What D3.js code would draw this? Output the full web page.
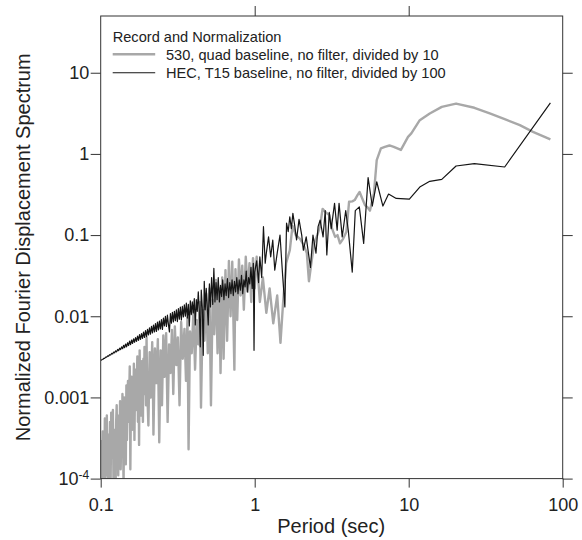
<!DOCTYPE html>
<html lang="en">
  <head>
    <meta charset="UTF-8" />
    <title>Normalized Fourier displacement spectrum</title>
    <script src="https://cdn.jsdelivr.net/npm/d3@7"></script>
    <style>
      body { margin: 0; background: #fff; }
      svg text { font-family: "Liberation Sans", Arial, Helvetica, sans-serif; fill: #222; }
    </style>
  </head>
  <body>
    <svg id="chart"></svg>
    <script>
      // tick values
      const xTicks = [0.1, 1, 10, 100];
      const yTicks = [10, 1, 0.1, 0.01, 0.001, 1e-4];

      const legendTitle = "Record and Normalization";
      const seriesNames = [
        "530, quad baseline, no filter, divided by 10",
        "HEC, T15 baseline, no filter, divided by 100",
      ];

      // 530 record, [period (s), normalized amplitude]
      const rec530 = [
        [0.1000, 3.0e-4], [0.1008, 8e-5], [0.1016, 2.5e-4], [0.1024, 1.5e-4], [0.1032, 3.8e-4],
        [0.1040, 9e-5], [0.1048, 2.2e-4], [0.1056, 1.2e-4], [0.1064, 5.5e-4], [0.1072, 7e-5],
        [0.1080, 3.0e-4], [0.1088, 1.6e-4], [0.1096, 6.0e-4], [0.1104, 1.1e-4], [0.1112, 3.5e-4],
        [0.1120, 8e-5], [0.1130, 2.8e-4], [0.1140, 1.3e-4], [0.1150, 5.0e-4], [0.1160, 9e-5],
        [0.1170, 6.5e-4], [0.1180, 1.8e-4], [0.1190, 3.2e-4], [0.1200, 7.0e-4], [0.1210, 1.0e-4],
        [0.1220, 4.0e-4], [0.1230, 1.5e-4], [0.1240, 3.0e-4], [0.1250, 7e-5], [0.1260, 5.0e-4],
        [0.1270, 8.0e-4], [0.1280, 2.0e-4], [0.1290, 4.5e-4], [0.1300, 1.1e-4], [0.1312, 6.0e-4],
        [0.1324, 2.5e-4], [0.1336, 9.0e-4], [0.1348, 1.3e-4], [0.1360, 4.0e-4], [0.1372, 2.0e-4],
        [0.1384, 1.1e-3], [0.1396, 3.5e-4], [0.1408, 8e-5], [0.1420, 1.0e-3], [0.1432, 4.0e-4],
        [0.1444, 7.0e-4], [0.1456, 1.5e-4], [0.1468, 1.4e-3], [0.1480, 3.0e-4], [0.1492, 8.0e-4],
        [0.1504, 1.6e-3], [0.1516, 5.0e-4], [0.1530, 1.0e-3], [0.1544, 2.4e-3], [0.1558, 1.3e-4],
        [0.1572, 9.0e-4], [0.1586, 1.8e-3], [0.1600, 4.0e-4], [0.1614, 1.2e-3], [0.1628, 6.0e-4],
        [0.1642, 2.6e-3], [0.1656, 3.0e-4], [0.1670, 1.4e-3], [0.1685, 2.2e-3], [0.1700, 7.0e-4],
        [0.1715, 1.5e-3], [0.1730, 3.2e-3], [0.1745, 5.0e-4], [0.1760, 1.8e-3], [0.1775, 2.6e-4],
        [0.1790, 3.8e-3], [0.1805, 9.0e-4], [0.1820, 2.4e-3], [0.1835, 6.0e-4], [0.1850, 2.8e-3],
        [0.1865, 1.3e-3], [0.1880, 5.0e-4], [0.1895, 3.0e-3], [0.1910, 1.1e-3], [0.1925, 4.2e-3],
        [0.1940, 1.6e-3], [0.1955, 2.5e-3], [0.1970, 8.0e-4], [0.1985, 5.5e-3], [0.2000, 1.5e-3],
        [0.204, 4.5e-4], [0.208, 3.6e-3], [0.212, 1.0e-3], [0.216, 4.8e-3], [0.218, 1.8e-3],
        [0.220, 3.5e-4], [0.225, 4.0e-3], [0.230, 1.5e-3], [0.235, 5.2e-3], [0.240, 2.8e-4],
        [0.245, 3.8e-3], [0.250, 8.0e-4], [0.255, 5.8e-3], [0.260, 1.8e-3], [0.266, 6.2e-3],
        [0.272, 5.0e-4], [0.278, 4.5e-3], [0.284, 2.0e-3], [0.290, 6.8e-3], [0.296, 1.1e-3],
        [0.303, 7.5e-3], [0.310, 2.5e-3], [0.317, 5.5e-3], [0.325, 8.0e-4], [0.333, 8.5e-3],
        [0.341, 3.0e-3], [0.350, 7.0e-3], [0.358, 1.6e-3], [0.366, 9.5e-3], [0.372, 2.3e-4],
        [0.380, 6.5e-3], [0.390, 3.5e-3], [0.400, 1.15e-2], [0.410, 2.2e-3], [0.420, 9.0e-3],
        [0.430, 4.5e-3], [0.440, 1.5e-2], [0.448, 7.5e-4], [0.460, 1.2e-2], [0.472, 5.0e-3],
        [0.484, 1.9e-2], [0.496, 3.5e-3], [0.508, 2.2e-2], [0.520, 8.0e-4], [0.533, 1.6e-2],
        [0.546, 6.0e-3], [0.560, 2.8e-2], [0.574, 3.5e-3], [0.588, 2.2e-2], [0.600, 2.0e-3],
        [0.615, 3.0e-2], [0.628, 3.0e-3], [0.646, 3.7e-2], [0.662, 5.0e-3], [0.680, 4.8e-2],
        [0.697, 1.0e-2], [0.715, 4.7e-2], [0.738, 2.2e-3], [0.750, 3.8e-2], [0.770, 9.0e-3],
        [0.790, 5.0e-2], [0.810, 1.8e-2], [0.830, 4.2e-2], [0.850, 1.2e-2], [0.875, 5.4e-2],
        [0.900, 2.0e-2], [0.925, 4.5e-2], [0.950, 1.5e-2], [0.975, 5.2e-2], [1.000, 2.2e-2],
        [1.03, 0.054], [1.08, 0.015], [1.13, 0.030], [1.19, 0.011], [1.25, 0.022],
        [1.32, 0.0082], [1.40, 0.018], [1.47, 0.0047], [1.53, 0.015], [1.60, 0.045],
        [1.69, 0.065], [1.76, 0.13], [1.85, 0.10], [1.97, 0.09], [2.08, 0.075],
        [2.18, 0.06], [2.25, 0.027], [2.35, 0.05], [2.44, 0.08], [2.55, 0.10],
        [2.65, 0.125], [2.76, 0.21], [2.90, 0.19], [3.05, 0.177], [3.18, 0.12],
        [3.33, 0.095], [3.45, 0.10], [3.58, 0.079], [3.75, 0.09], [3.94, 0.11],
        [4.10, 0.257], [4.30, 0.26], [4.46, 0.27], [4.65, 0.31], [4.80, 0.34],
        [5.00, 0.28], [5.20, 0.234], [5.40, 0.22], [5.60, 0.20], [5.95, 0.33],
        [6.20, 0.84], [6.60, 1.17], [7.00, 1.22], [7.50, 1.27], [8.00, 1.22],
        [8.90, 1.12], [9.90, 1.62], [10.4, 1.79], [11.8, 2.6], [13.7, 3.15],
        [16.4, 3.8], [20.3, 4.17], [26.7, 3.7], [33.6, 3.15], [42.0, 2.68],
        [52.7, 2.26], [64.1, 1.87], [83.2, 1.51],
      ];

      // HEC record, [period (s), normalized amplitude]
      const recHEC = [
        [0.1000, 0.00285], [0.1015, 0.00291], [0.1030, 0.00293], [0.1046, 0.00302], [0.1061, 0.00303],
        [0.1077, 0.00313], [0.1093, 0.00314], [0.1110, 0.00325], [0.1126, 0.00323], [0.1143, 0.00336],
        [0.1161, 0.00333], [0.1178, 0.00349], [0.1196, 0.00344], [0.1214, 0.00362], [0.1232, 0.00354],
        [0.1250, 0.00375], [0.1269, 0.00364], [0.1288, 0.00390], [0.1307, 0.00376], [0.1327, 0.00404],
        [0.1347, 0.00388], [0.1367, 0.00420], [0.1388, 0.00398], [0.1408, 0.00438], [0.1430, 0.00410],
        [0.1451, 0.00455], [0.1473, 0.00420], [0.1495, 0.00472], [0.1517, 0.00436], [0.1540, 0.00494],
        [0.1563, 0.00448], [0.1587, 0.00510], [0.1610, 0.00462], [0.1635, 0.00528], [0.1659, 0.00478],
        [0.1684, 0.00545], [0.1709, 0.00490], [0.1735, 0.00570], [0.1761, 0.00505], [0.1787, 0.00595],
        [0.1814, 0.00520], [0.1841, 0.00612], [0.1869, 0.00535], [0.1897, 0.00640], [0.1925, 0.00548],
        [0.1954, 0.00665], [0.1984, 0.00560], [0.2013, 0.00690], [0.2043, 0.00590], [0.2074, 0.00720],
        [0.2105, 0.00600], [0.2137, 0.00750], [0.2169, 0.00625], [0.2202, 0.00780], [0.2235, 0.00640],
        [0.2268, 0.00810], [0.2302, 0.00650], [0.2337, 0.00850], [0.2372, 0.00680], [0.2407, 0.00870],
        [0.2443, 0.00700], [0.2480, 0.00910], [0.2517, 0.00690], [0.2555, 0.00950], [0.2593, 0.00760],
        [0.2632, 0.01000], [0.2672, 0.00750], [0.2712, 0.01030], [0.2752, 0.00800], [0.2794, 0.00640],
        [0.2836, 0.01080], [0.2878, 0.00820], [0.2921, 0.01120], [0.2965, 0.00850], [0.3010, 0.01150],
        [0.3055, 0.00880], [0.3101, 0.01200], [0.3147, 0.00860], [0.3194, 0.01240], [0.3242, 0.00920],
        [0.3291, 0.01300], [0.3340, 0.00900], [0.3390, 0.01320], [0.3441, 0.00980], [0.3493, 0.01380],
        [0.3545, 0.01000], [0.3598, 0.01450], [0.3652, 0.00950], [0.3707, 0.01400], [0.3763, 0.00760],
        [0.3819, 0.01550], [0.3876, 0.01050], [0.3934, 0.01500], [0.3993, 0.01100], [0.4053, 0.01650],
        [0.4114, 0.00780], [0.4176, 0.01600], [0.4238, 0.01150], [0.4302, 0.02000], [0.4366, 0.01200],
        [0.4432, 0.00420], [0.4498, 0.02100], [0.4566, 0.01300], [0.4634, 0.00330], [0.4704, 0.02700],
        [0.4774, 0.01200], [0.4846, 0.02200], [0.4919, 0.01300], [0.4992, 0.00780],
        [0.508, 0.02500], [0.516, 0.01300], [0.525, 0.03000], [0.534, 0.01400], [0.543, 0.03900],
        [0.552, 0.01500], [0.561, 0.02600], [0.570, 0.01600], [0.580, 0.03000], [0.590, 0.01500],
        [0.600, 0.02400], [0.610, 0.01750], [0.620, 0.02800], [0.631, 0.01600], [0.642, 0.02500],
        [0.653, 0.01800], [0.665, 0.02900], [0.677, 0.01700], [0.689, 0.02600], [0.701, 0.01900],
        [0.713, 0.02800], [0.726, 0.01800], [0.739, 0.02700], [0.752, 0.02000], [0.765, 0.03000],
        [0.779, 0.01900], [0.793, 0.02800], [0.807, 0.02100], [0.821, 0.03200], [0.836, 0.01900],
        [0.851, 0.02800], [0.866, 0.02300], [0.881, 0.03600], [0.897, 0.02000], [0.913, 0.03000],
        [0.929, 0.02500], [0.946, 0.04000], [0.963, 0.02200], [0.980, 0.04500], [0.990, 0.00380],
        [1.000, 0.03500], [1.03, 0.048], [1.06, 0.026], [1.08, 0.054], [1.11, 0.030],
        [1.14, 0.127], [1.17, 0.045], [1.19, 0.060], [1.23, 0.095], [1.27, 0.054],
        [1.31, 0.087], [1.35, 0.037], [1.40, 0.060], [1.46, 0.100], [1.52, 0.031],
        [1.57, 0.013], [1.61, 0.140], [1.65, 0.110], [1.69, 0.168], [1.73, 0.120],
        [1.77, 0.185], [1.82, 0.130], [1.87, 0.087], [1.94, 0.156], [2.02, 0.100],
        [2.07, 0.065], [2.16, 0.095], [2.30, 0.040], [2.39, 0.100], [2.50, 0.060],
        [2.58, 0.127], [2.66, 0.153], [2.78, 0.095], [2.87, 0.200], [2.94, 0.057],
        [3.05, 0.190], [3.14, 0.120], [3.30, 0.246], [3.43, 0.115], [3.53, 0.246],
        [3.70, 0.095], [3.90, 0.200], [4.05, 0.115], [4.30, 0.035], [4.50, 0.200],
        [4.78, 0.223], [5.10, 0.079], [5.45, 0.510], [5.80, 0.228], [6.20, 0.454],
        [6.80, 0.228], [7.40, 0.320], [8.30, 0.283], [10.1, 0.277], [11.8, 0.390],
        [13.7, 0.460], [16.4, 0.485], [20.3, 0.710], [26.7, 0.760], [42.0, 0.690],
        [83.2, 4.26],
      ];

      const W = 582, H = 540;
      const margin = { top: 16, right: 19.3, bottom: 61.4, left: 100.7 };
      const iw = W - margin.left - margin.right;
      const ih = H - margin.top - margin.bottom;

      const svg = d3.select("#chart").attr("width", W).attr("height", H);
      const g = svg.append("g").attr("transform", `translate(${margin.left},${margin.top})`);

      const x = d3.scaleLog().domain([0.1, 100]).range([0, iw]);
      const y = d3.scaleLog().domain([1e-4, 50]).range([ih, 0]);

      g.append("clipPath").attr("id", "plot-clip")
        .append("rect").attr("width", iw).attr("height", ih);

      const line = d3.line().x((d) => x(d[0])).y((d) => y(d[1]));

      const plot = g.append("g").attr("clip-path", "url(#plot-clip)");
      plot.append("path").datum(rec530)
        .attr("d", line).attr("fill", "none")
        .attr("stroke", "#a8a8a8").attr("stroke-width", 2.4)
        .attr("stroke-linejoin", "round");
      plot.append("path").datum(recHEC)
        .attr("d", line).attr("fill", "none")
        .attr("stroke", "#151515").attr("stroke-width", 1.2)
        .attr("stroke-linejoin", "round");

      // frame
      g.append("rect").attr("width", iw).attr("height", ih)
        .attr("fill", "none").attr("stroke", "#333").attr("stroke-width", 1);

      const fmtY = (d) => d3.format("~g")(d);

      g.append("g").attr("transform", `translate(0,${ih})`)
        .call(d3.axisBottom(x).tickValues(xTicks).tickFormat(d3.format("~g"))
          .tickSize(9).tickSizeOuter(0).tickPadding(10.5));
      const axL = g.append("g")
        .call(d3.axisLeft(y).tickValues(yTicks).tickFormat(fmtY)
          .tickSize(10).tickSizeOuter(0).tickPadding(1.5));
      g.append("g").attr("transform", `translate(${iw},0)`)
        .call(d3.axisRight(y).tickValues(yTicks).tickFormat("")
          .tickSize(10).tickSizeOuter(0));
      g.append("g")
        .call(d3.axisTop(x).tickValues([1, 10]).tickFormat("")
          .tickSize(10).tickSizeOuter(0));

      g.selectAll(".domain").remove();
      g.selectAll(".tick line").attr("stroke", "#333");
      g.selectAll(".tick text").attr("font-size", 18).attr("fill", "#222");

      // 10^-4 with a superscript
      axL.selectAll(".tick text").filter((d) => d === 1e-4)
        .each(function () {
          const t = d3.select(this);
          t.text(null);
          t.append("tspan").text("10");
          t.append("tspan").attr("dy", "-0.5em").attr("font-size", 12).text("-4");
        });

      // axis titles
      svg.append("text")
        .attr("x", margin.left + iw / 2 - 0.5).attr("y", 533)
        .attr("text-anchor", "middle").attr("font-size", 20)
        .text("Period (sec)");
      svg.append("text")
        .attr("transform", `translate(29.5,${margin.top + ih / 2}) rotate(-90)`)
        .attr("text-anchor", "middle").attr("font-size", 20)
        .text("Normalized Fourier Displacement Spectrum");

      // legend
      const lg = svg.append("g").attr("transform", "translate(112.7,0)");
      lg.append("text").attr("x", 0).attr("y", 41.7).attr("font-size", 14.6).text(legendTitle);
      const legendRows = [
        { name: seriesNames[0], color: "#a8a8a8", width: 2.4, y: 54.3 },
        { name: seriesNames[1], color: "#151515", width: 1.1, y: 72.7 },
      ];
      legendRows.forEach((r) => {
        lg.append("line").attr("x1", 0).attr("x2", 42.5).attr("y1", r.y).attr("y2", r.y)
          .attr("stroke", r.color).attr("stroke-width", r.width);
        lg.append("text").attr("x", 53.3).attr("y", r.y + 5.6)
          .attr("font-size", 14.6).text(r.name);
      });
    </script>
  </body>
</html>
